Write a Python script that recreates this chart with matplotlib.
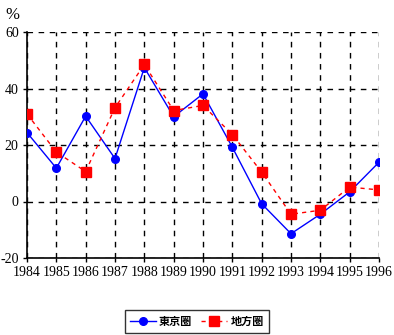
import numpy as np
import matplotlib
matplotlib.use("Agg")
import matplotlib.pyplot as plt

# 地価上昇率の推移 (%)
years = [1984, 1985, 1986, 1987, 1988, 1989, 1990, 1991, 1992, 1993, 1994, 1995, 1996]
tokyo = [24.4, 11.8, 30.2, 15.2, 47.4, 30.0, 38.1, 19.2, -0.8, -11.4, -4.5, 3.4, 13.9]
local = [31.0, 17.5, 10.6, 33.2, 48.5, 32.2, 34.0, 23.7, 10.4, -4.5, -3.1, 5.1, 4.1]

plt.rcParams['font.family'] = ['Liberation Serif', 'Noto Sans CJK JP']
plt.rcParams['axes.unicode_minus'] = False

fig = plt.figure(figsize=(3.94, 3.35), dpi=100)
ax = fig.add_axes([27 / 394, 1 - 258 / 335, (379 - 27) / 394, (258 - 32) / 335])

ax.plot(years, tokyo, color="#0000ff", lw=1, marker="o", ms=5.5,
        markeredgecolor="#0000ff", label="東京圏", zorder=3)
ax.plot(years, local, color="#ff0000", lw=1, ls=(0, (3, 3)), marker="s", ms=6.5,
        markeredgecolor="#ff0000", label="地方圏", zorder=3)

ax.set_xlim(1984, 1996)
ax.set_ylim(-20, 60)
ax.set_xticks(years)
ax.set_yticks([-20, 0, 20, 40, 60])
ax.grid(True, color="black", ls=(0, (4, 4)), lw=1)
ax.spines["top"].set_visible(False)
ax.spines["right"].set_visible(False)
ax.spines["left"].set_linewidth(1.2)
ax.spines["bottom"].set_linewidth(1.2)
ax.tick_params(length=3, width=1, labelsize=10, pad=3)

fig.text(12 / 394, 1 - 15 / 335, "%", fontsize=12, ha="center", va="center")

leg = fig.legend(loc="center", bbox_to_anchor=(197 / 394, 1 - 321 / 335),
                 ncol=2, frameon=True, fancybox=False,
                 edgecolor="black", handlelength=2.3, columnspacing=0.8,
                 borderpad=0.45, handletextpad=0.3, borderaxespad=0,
                 prop={'family': ['Noto Sans CJK JP'], 'size': 8, 'weight': 'bold'})
leg.get_frame().set_linewidth(1)

fig.savefig("out.png", dpi=100)
